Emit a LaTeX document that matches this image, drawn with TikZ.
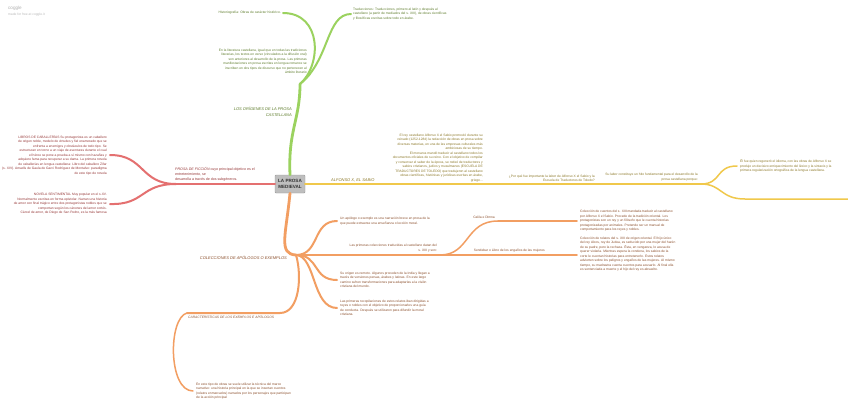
\documentclass[tikz,border=0pt]{standalone}
\usepackage{fontspec}
\setmainfont{Liberation Sans}
\usepackage{tikz}
\usetikzlibrary{positioning}
\definecolor{mygreen}{RGB}{155,210,95}
\definecolor{myred}{RGB}{228,112,112}
\definecolor{myyellow}{RGB}{240,200,75}
\definecolor{myorange}{RGB}{242,158,98}
\definecolor{greentext}{RGB}{95,125,45}
\definecolor{redtext}{RGB}{150,55,55}
\definecolor{yellowtext}{RGB}{140,120,40}
\definecolor{orangetext}{RGB}{140,80,45}
\definecolor{mygray}{RGB}{190,190,190}
\tikzstyle{txt} = [inner sep=0pt, font=\fontsize{3.3}{4.5}\selectfont]
\tikzstyle{topic} = [inner sep=0pt, font=\itshape\fontsize{4}{5.6}\selectfont]
\tikzstyle{centre} = [rectangle, rounded corners=1pt, draw=gray!80, fill=mygray, minimum width=30pt, minimum height=18pt, inner sep=1pt, align=center, text=black!80, font=\bfseries\fontsize{4.6}{5.4}\selectfont]
\tikzstyle{branch} = [line width=2.8pt, line cap=round]
\tikzstyle{twig} = [line width=2pt, line cap=round]
\tikzstyle{leaf} = [line width=1.5pt, line cap=round]

\begin{document}
\begin{tikzpicture}[x=1pt,y=-1pt]
\fill[white] (0,0) rectangle (848,410);
\useasboundingbox (0,0) rectangle (848,410);

% header
\node[txt, anchor=west, text=gray!60, font=\fontsize{4.6}{5}\selectfont] (logo) at (8,8) {coggle};
\node[txt, anchor=west, text=gray!55] (madefor) at (8,15) {made for free at coggle.it};

\node[centre] (prosa) at (290,184) {LA PROSA\\MEDIEVAL};

% origenes
\coordinate (g0) at (300,84);
\node[topic, text=greentext, align=right, anchor=north east] (origenes) at (292,107) {LOS ORÍGENES DE LA PROSA\\CASTELLANA};
\node[txt, text=greentext, anchor=east] (historia) at (281,13) {Historiografía: Obras de carácter histórico.};
\node[txt, text=greentext, align=left, anchor=west] (traduc) at (353,14) {Traducciones: Traducciones, primero al latín y después al\\castellano (a partir de mediados del s. XIII), de obras científicas\\y filosóficas escritas sobre todo en árabe.};
\node[txt, text=greentext, align=right, anchor=south east] (literatura) at (307,74) {En la literatura castellana, igual que en todas las tradiciones\\literarias, los textos en verso (vinculados a la difusión oral)\\son anteriores al desarrollo de la prosa. Las primeras\\manifestaciones en prosa escritas en lengua romance se\\inscriben en dos tipos de discurso que no pertenecen al\\ámbito literario};
\draw[branch, mygreen] (prosa.north) .. controls (288,130) and (300,120) .. (g0);
\draw[twig, mygreen] (g0) .. controls (322,65) and (322,13) .. ([xshift=2pt]historia.east);
\draw[twig, mygreen] (g0) .. controls (330,60) and (326,14) .. ([xshift=-2pt]traduc.west);
\draw[twig, mygreen] (g0) .. controls (304,80) .. ([xshift=3pt]literatura.south east);

% ficcion
\coordinate (r0) at (176,184);
\node[topic, text=redtext, font=\fontsize{3.6}{4.6}\selectfont, align=left, anchor=south west] (ficcion) at (175,181) {\textit{PROSA DE FICCIÓN} cuyo principal objetivo es el\\entretenimiento, se\\desarrolla a través de dos subgéneros.};
\node[txt, text=redtext, align=right, anchor=east] (libros) at (107,155) {LIBROS DE CABALLERÍAS Su protagonista es un caballero\\de origen noble, modelo de virtudes y fiel enamorado que se\\enfrenta a enemigos y obstáculos de todo tipo. Se\\estructuran en torno a un viaje de aventuras durante el cual\\el héroe se pone a prueba a sí mismo con hazañas y\\adquiere fama para recuperar a su dama. La primera novela\\de caballerías en lengua castellana: Libro del caballero Zifar\\(s. XIV). Amadís de Gaula de Garci Rodríguez de Montalvo: paradigma\\de este tipo de novela};
\node[txt, text=redtext, align=right, anchor=east] (novela) at (107,204) {NOVELA SENTIMENTAL Muy popular en el s.XV.\\Normalmente escritas en forma epistolar. Narran una historia\\de amor con final trágico entre dos protagonistas nobles que se\\comportan según los cánones del amor cortés.\\Cárcel de amor, de Diego de San Pedro, es la más famosa};
\draw[branch, myred] (prosa.west) -- (r0);
\draw[twig, myred] (r0) .. controls (140,184) and (145,155) .. ([xshift=3pt]libros.east);
\draw[twig, myred] (r0) .. controls (140,184) and (145,205) .. ([xshift=3pt]novela.east);

% alfonso
\coordinate (a1) at (486,184);
\coordinate (a2) at (598,184);
\coordinate (a3) at (701,184);
\coordinate (a4) at (848,199);
\node[topic, text=yellowtext, anchor=south west] (alfonso) at (331,182) {ALFONSO X, EL SABIO};
\node[txt, text=yellowtext, align=right, anchor=south east] (alfonsotxt) at (483,182) {El rey castellano Alfonso X el Sabio promovió durante su\\reinado (1252-1284) la redacción de obras en prosa sobre\\diversas materias, en una de las empresas culturales más\\ambiciosas de su tiempo.\\El monarca mandó traducir al castellano todos los\\documentos oficiales de su reino. Con el objetivo de compilar\\y conservar el saber de la época, se rodeó de traductores y\\sabios cristianos, judíos y musulmanes (ESCUELA DE\\TRADUCTORES DE TOLEDO) que tradujeron al castellano\\obras científicas, históricas y jurídicas escritas en árabe,\\griego...};
\node[txt, text=yellowtext, align=right, anchor=south east] (porque) at (595,182) {¿Por qué fue importante la labor de Alfonso X el Sabio y la\\Escuela de Traductores de Toledo?};
\node[txt, text=yellowtext, align=right, anchor=south east] (sulabor) at (698,181) {Su labor constituye un hito fundamental para el desarrollo de la\\prosa castellana porque:};
\node[txt, text=yellowtext, align=left, anchor=west] (elfue) at (740,166) {Él fue quien regeneró el idioma, con las obras de Alfonso X se\\produjo un decisivo enriquecimiento del léxico y la sintaxis y la\\primera regularización ortográfica de la lengua castellana.};
\draw[branch, myyellow] (prosa.east) -- (a1);
\draw[twig, myyellow] (a1) -- (a2);
\draw[twig, myyellow] (a2) -- (a3);
\draw[leaf, myyellow] (a3) .. controls (722,184) and (715,166) .. ([xshift=-3pt]elfue.west);
\draw[leaf, myyellow] (a3) .. controls (722,184) and (720,199) .. (745,199) -- (a4);

% colecciones
\coordinate (o0) at (296,255);
\coordinate (o1) at (440,255);
\coordinate (o4) at (498,221);
\coordinate (o2) at (577,221);
\coordinate (o5) at (546,255);
\coordinate (o3) at (577,255);
\coordinate (c1) at (187,313);
\node[topic, text=orangetext, anchor=north east] (colecc) at (287,256) {COLECCIONES DE APÓLOGOS O EXEMPLOS};
\node[txt, text=orangetext, align=left, anchor=west] (apologo) at (340,221) {Un apólogo o exemplo es una narración breve en prosa de la\\que puede extraerse una enseñanza o lección moral.};
\node[txt, text=orangetext, align=right, anchor=south east] (primcol) at (437,252) {Las primeras colecciones traducidas al castellano datan del\\s. XIII y son:};
\node[txt, text=orangetext, align=left, anchor=west] (origen) at (340,280) {Su origen es remoto. Algunos proceden de la India y llegan a\\través de versiones persas, árabes y latinas. En este largo\\camino sufren transformaciones para adaptarlas a la visión\\cristiana del mundo.};
\node[txt, text=orangetext, align=left, anchor=west] (recop) at (340,308) {Las primeras recopilaciones de estos relatos iban dirigidas a\\reyes o nobles con el objetivo de proporcionarles una guía\\de conducta. Después se utilizaron para difundir la moral\\cristiana.};
\node[txt, text=orangetext, anchor=south east] (calila) at (495,219) {Calila e Dimna};
\node[txt, text=orangetext, align=left, anchor=west] (calilatxt) at (580,221) {Colección de cuentos del s. XIII mandada traducir al castellano\\por Alfonso X el Sabio. Procede de la tradición oriental. Los\\protagonistas son un rey y un filósofo que le cuenta historias\\protagonizadas por animales. Pretende ser un manual de\\comportamiento para los reyes y nobles.};
\node[txt, text=orangetext, anchor=south east] (sendebar) at (545,252) {Sendebar o Libro de los engaños de las mujeres};
\node[txt, text=orangetext, align=left, anchor=west] (sendtxt) at (580,254) {Colección de relatos del s. XIII de origen oriental. El hijo único\\del rey Alcos, rey de Judea, es seducido por una mujer del harén\\de su padre, pero la rechaza. Ésta, en venganza, lo acusa de\\querer violarla. Mientras espera la condena, los sabios de la\\corte le cuentan historias para entretenerlo. Estos relatos\\advierten sobre los peligros y engaños de las mujeres. Al mismo\\tiempo, su madrastra cuenta cuentos para acusarlo. Al final ella\\es sentenciada a muerte y el hijo del rey es absuelto.};
\node[txt, text=orangetext, font=\itshape\fontsize{3.3}{4.5}\selectfont, anchor=north west] (caract) at (188,315) {CARACTERÍSTICAS DE LOS EXEMPLOS E APÓLOGOS};
\node[txt, text=orangetext, align=left, anchor=west] (estetipo) at (196,391) {En este tipo de obras se suele utilizar la técnica del marco\\narrativo: una historia principal en la que se insertan cuentos\\(relatos enmarcados) narrados por los personajes que participan\\de la acción principal};
\draw[branch, myorange] (prosa.south) .. controls (286,235) and (278,254) .. (o0);
\draw[twig, myorange] (o0) .. controls (320,255) and (312,221) .. ([xshift=-3pt]apologo.west);
\draw[twig, myorange] (o0) -- (o1);
\draw[twig, myorange] (o0) .. controls (320,255) and (312,280) .. ([xshift=-3pt]origen.west);
\draw[twig, myorange] (o0) .. controls (316,256) and (312,308) .. ([xshift=-3pt]recop.west);
\draw[twig, myorange] (o0) .. controls (302,275) and (300,313) .. (280,313) -- (c1);
\draw[leaf, myorange] (c1) .. controls (168,318) and (168,391) .. ([xshift=-3pt]estetipo.west);
\draw[leaf, myorange] (o1) .. controls (470,255) and (465,221) .. (o4);
\draw[leaf, myorange] (o4) -- (o2);
\draw[leaf, myorange] (o1) -- (o5);
\draw[leaf, myorange] (o5) -- (o3);
\end{tikzpicture}
\end{document}
